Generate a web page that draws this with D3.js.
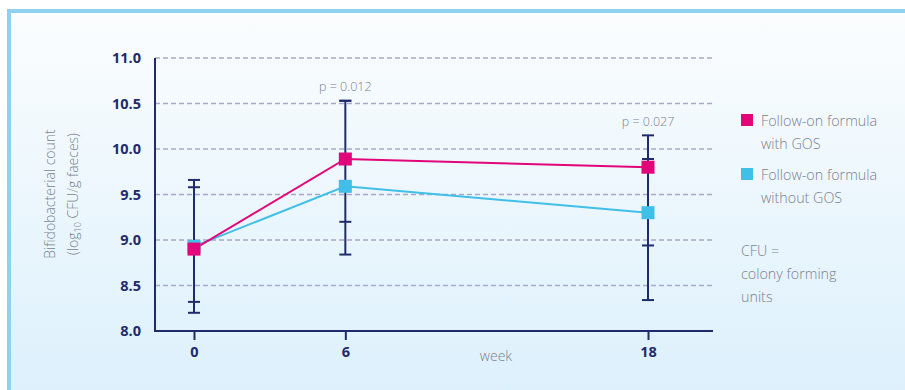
<!DOCTYPE html>
<html>
<head>
<meta charset="utf-8">
<script src="https://cdn.jsdelivr.net/npm/d3@7"></script>
<style>
  html, body { margin: 0; padding: 0; background: #ffffff; }
  svg { display: block; }
</style>
</head>
<body>
<svg id="chart" width="905" height="390"></svg>
<script>
// ---- data ----
const weeks = [0, 6, 18];
const xTickLabels = ["0", "6", "18"];
const yTicks = [8.0, 8.5, 9.0, 9.5, 10.0, 10.5, 11.0];
const seriesNames = ["Follow-on formula with GOS", "Follow-on formula without GOS"];
const withGOS = [8.90, 9.89, 9.80];
const withoutGOS = [8.93, 9.59, 9.30];
const withGOSLow = [8.20, 9.20, 8.94];
const withGOSHigh = [9.58, 10.53, 10.15];
const withoutGOSLow = [8.32, 8.84, 8.34];
const withoutGOSHigh = [9.66, 10.53, 9.89];
const pLabels = [{ week: 6, text: "p = 0.012" }, { week: 18, text: "p = 0.027" }];

// ---- layout ----
const svg = d3.select("#chart");
const navy = "#1f2b6c";
const magenta = "#e2067a";
const cyan = "#40bfe9";
const grey = "#7a7f90";

const defs = svg.append("defs");
const grad = defs.append("linearGradient").attr("id", "bg").attr("x1", 0).attr("y1", 0).attr("x2", 0).attr("y2", 1);
grad.append("stop").attr("offset", "0%").attr("stop-color", "#fbfdfe");
grad.append("stop").attr("offset", "100%").attr("stop-color", "#dcf0fc");

svg.append("rect").attr("x", 0).attr("y", 0).attr("width", 905).attr("height", 390).attr("fill", "#ffffff");
svg.append("rect").attr("x", 7).attr("y", 9).attr("width", 905).attr("height", 390).attr("fill", "url(#bg)");
svg.append("rect").attr("x", 7).attr("y", 9).attr("width", 898).attr("height", 4).attr("fill", "#8fd2ef");
svg.append("rect").attr("x", 7).attr("y", 9).attr("width", 4).attr("height", 381).attr("fill", "#8fd2ef");

const x = d3.scaleLinear().domain([0, 18]).range([194, 648]);
const y = d3.scaleLinear().domain([8, 11]).range([331, 58]);
const xLeft = 155, xRight = 713;

// gridlines
svg.append("g").selectAll("line").data(yTicks.filter(d => d > 8)).join("line")
  .attr("x1", xLeft).attr("x2", xRight)
  .attr("y1", d => y(d)).attr("y2", d => y(d))
  .attr("stroke", "#aaa8c8").attr("stroke-width", 1.6).attr("stroke-dasharray", "5,3");

// y axis
const yAxis = d3.axisLeft(y).tickValues(yTicks).tickFormat(d3.format(".1f")).tickSize(0).tickPadding(14);
const yg = svg.append("g").attr("transform", `translate(${xLeft},0)`).call(yAxis);
yg.select(".domain").remove();
yg.selectAll("text").attr("fill", navy).attr("font-family", "'Open Sans', sans-serif")
  .attr("font-weight", "bold").attr("font-size", 14.5);
svg.append("line").attr("x1", xLeft).attr("x2", xLeft).attr("y1", y(11)).attr("y2", y(8) + 1)
  .attr("stroke", navy).attr("stroke-width", 2);

// x axis
const xAxis = d3.axisBottom(x).tickValues(weeks).tickFormat((d, i) => xTickLabels[i]).tickSize(9).tickPadding(7);
const xg = svg.append("g").attr("transform", `translate(0,${y(8)})`).call(xAxis);
xg.select(".domain").remove();
xg.selectAll("line").attr("stroke", navy).attr("stroke-width", 2);
xg.selectAll("text").attr("fill", navy).attr("font-family", "'Open Sans', sans-serif")
  .attr("font-weight", "bold").attr("font-size", 14.5);
svg.append("line").attr("x1", xLeft - 1).attr("x2", xRight).attr("y1", y(8)).attr("y2", y(8))
  .attr("stroke", navy).attr("stroke-width", 2);

svg.append("text").attr("x", 496).attr("y", 361).attr("text-anchor", "middle")
  .attr("fill", grey).attr("font-family", "'Open Sans', sans-serif").attr("font-weight", 300)
  .attr("font-size", 14).text("week");

// y title
const yt = svg.append("text").attr("transform", "translate(55,194) rotate(-90)")
  .attr("text-anchor", "middle").attr("fill", grey)
  .attr("font-family", "'Open Sans', sans-serif").attr("font-weight", 300).attr("font-size", 14);
yt.append("tspan").attr("x", 0).attr("dy", 0).text("Bifidobacterial count");
const t2 = yt.append("tspan").attr("x", 0).attr("dy", 23);
t2.append("tspan").text("(log");
t2.append("tspan").attr("font-size", 9).attr("dy", 3).text("10");
t2.append("tspan").attr("dy", -3).text(" CFU/g faeces)");

// error bars
const errG = svg.append("g");
weeks.forEach((w, i) => {
  const lo = Math.min(withGOSLow[i], withoutGOSLow[i]);
  const hi = Math.max(withGOSHigh[i], withoutGOSHigh[i]);
  errG.append("line").attr("x1", x(w)).attr("x2", x(w)).attr("y1", y(lo)).attr("y2", y(hi))
    .attr("stroke", navy).attr("stroke-width", 2);
  [withGOSLow[i], withGOSHigh[i], withoutGOSLow[i], withoutGOSHigh[i]].forEach(v => {
    errG.append("line").attr("x1", x(w) - 6).attr("x2", x(w) + 6).attr("y1", y(v)).attr("y2", y(v))
      .attr("stroke", navy).attr("stroke-width", 2);
  });
});

// lines
const line = d3.line().x((d, i) => x(weeks[i])).y(d => y(d));
svg.append("path").datum(withoutGOS).attr("d", line).attr("fill", "none").attr("stroke", cyan).attr("stroke-width", 2);
svg.append("path").datum(withGOS).attr("d", line).attr("fill", "none").attr("stroke", magenta).attr("stroke-width", 2);

const sz = 13;
svg.append("g").selectAll("rect").data(withoutGOS).join("rect")
  .attr("x", (d, i) => x(weeks[i]) - sz / 2).attr("y", d => y(d) - sz / 2)
  .attr("width", sz).attr("height", sz).attr("fill", cyan);
svg.append("g").selectAll("rect").data(withGOS).join("rect")
  .attr("x", (d, i) => x(weeks[i]) - sz / 2).attr("y", d => y(d) - sz / 2)
  .attr("width", sz).attr("height", sz).attr("fill", magenta);

// p labels
svg.append("g").selectAll("text").data(pLabels).join("text")
  .attr("x", d => x(d.week)).attr("y", (d, i) => i === 0 ? 91 : 126)
  .attr("text-anchor", "middle").attr("fill", grey)
  .attr("font-family", "'Open Sans', sans-serif").attr("font-weight", 300).attr("font-size", 12.5)
  .text(d => d.text);

// legend
const leg = svg.append("g").attr("font-family", "'Open Sans', sans-serif").attr("font-weight", 300)
  .attr("font-size", 14.3).attr("fill", grey);
const legColors = [magenta, cyan];
const legLines = [["Follow-on formula", "with GOS"], ["Follow-on formula", "without GOS"]];
seriesNames.forEach((n, i) => {
  const y0 = 114 + i * 54;
  leg.append("rect").attr("x", 741).attr("y", y0).attr("width", 12).attr("height", 12).attr("fill", legColors[i]);
  leg.append("text").attr("x", 761).attr("y", y0 + 12).text(legLines[i][0]);
  leg.append("text").attr("x", 761).attr("y", y0 + 35).text(legLines[i][1]);
});
["CFU =", "colony forming", "units"].forEach((t, i) => {
  leg.append("text").attr("x", 741).attr("y", 256 + i * 23).text(t);
});
</script>
</body>
</html>
